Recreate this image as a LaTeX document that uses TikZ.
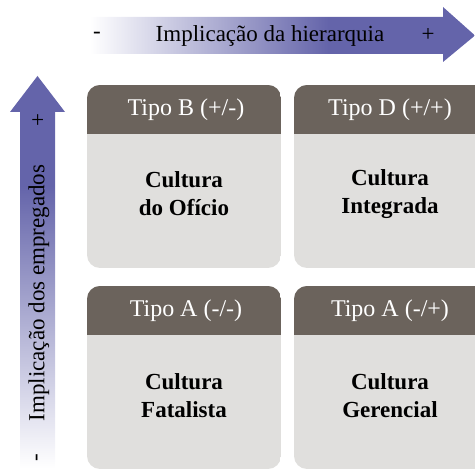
\documentclass[tikz,border=0pt]{standalone}
\usepackage{fontspec}
\setmainfont{Liberation Serif}
\definecolor{roxo}{RGB}{100,100,170}
\definecolor{cabeca}{RGB}{107,99,92}
\definecolor{corpo}{RGB}{224,223,221}
\pgfdeclarehorizontalshading{fadehier}{100bp}{color(0bp)=(white); color(25bp)=(white); color(56bp)=(roxo); color(100bp)=(roxo)}
\pgfdeclareverticalshading{fadeemp}{100bp}{color(0bp)=(white); color(25bp)=(white); color(61bp)=(roxo); color(100bp)=(roxo)}
\tikzset{
  tipo/.style={text=white, font=\fontsize{24}{28}\selectfont},
  cultura/.style={align=center, font=\fontsize{23}{28}\selectfont\bfseries},
  eixo/.style={font=\fontsize{23}{28}\selectfont}
}
\begin{document}
\begin{tikzpicture}[x=1pt,y=1pt]
    \useasboundingbox (0,0) rectangle (475,470);
    % fleche horizontale
    \shade[shading=fadehier] (90,416) -- (443,416) -- (443,408) -- (475,434.5) -- (443,463) -- (443,453) -- (90,453) -- cycle;
    \node[eixo] (hmenos) at (97,434.5) {-};
    \node[eixo] (hier) at (270,434.5) {Implicação da hierarquia};
    \node[eixo] (hmais) at (428,434.5) {+};
    % fleche verticale
    \shade[shading=fadeemp] (20,2) -- (20,358) -- (10,358) -- (37.5,394) -- (65,358) -- (55,358) -- (55,2) -- cycle;
    \node[eixo, rotate=90] (vmais) at (39,350) {+};
    \node[eixo, rotate=90] (emp) at (39,177) {Implicação dos empregados};
    \node[eixo, rotate=90] (vmenos) at (39,12) {-};
    % bloc B
    \begin{scope}
      \clip[rounded corners=13] (87,202) rectangle (281,385);
      \fill[corpo] (87,202) rectangle (281,385);
      \fill[cabeca] (87,336) rectangle (281,385);
    \end{scope}
    \node[tipo] (tipoB) at (186,360.5) {Tipo B (+/-)};
    \node[cultura] (oficio) at (184,276) {Cultura\\do Ofício};
    % bloc D
    \begin{scope}
      \clip[rounded corners=13] (294,202) rectangle (488,385);
      \fill[corpo] (294,202) rectangle (488,385);
      \fill[cabeca] (294,336) rectangle (488,385);
    \end{scope}
    \node[tipo] (tipoD) at (390,360.5) {Tipo D (+/+)};
    \node[cultura] (integrada) at (390,276) {Cultura\\Integrada};
    % bloc A
    \begin{scope}
      \clip[rounded corners=13] (87,1) rectangle (281,184);
      \fill[corpo] (87,1) rectangle (281,184);
      \fill[cabeca] (87,135) rectangle (281,184);
    \end{scope}
    \node[tipo] (tipoA) at (186,159.5) {Tipo A (-/-)};
    \node[cultura] (fatalista) at (184,74) {Cultura\\Fatalista};
    % bloc A (-/+)
    \begin{scope}
      \clip[rounded corners=13] (294,1) rectangle (488,184);
      \fill[corpo] (294,1) rectangle (488,184);
      \fill[cabeca] (294,135) rectangle (488,184);
    \end{scope}
    \node[tipo] (tipoAg) at (390,159.5) {Tipo A (-/+)};
    \node[cultura] (gerencial) at (390,74) {Cultura\\Gerencial};
\end{tikzpicture}
\end{document}
